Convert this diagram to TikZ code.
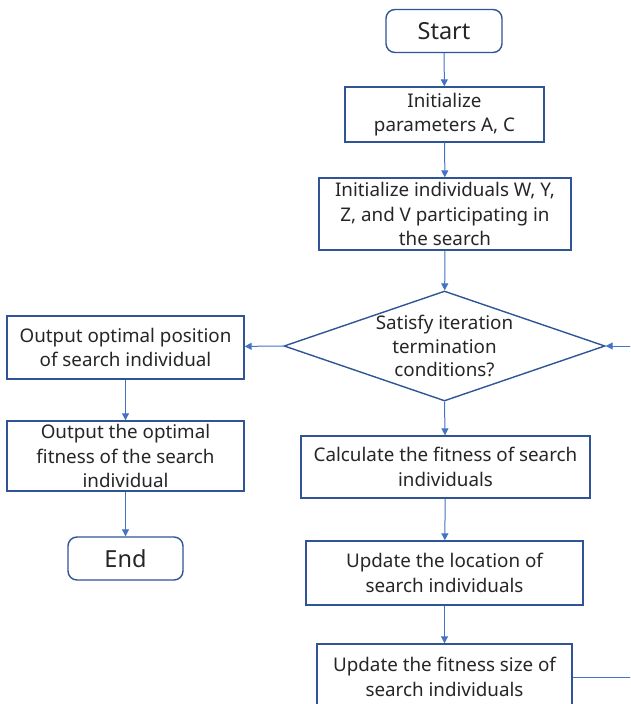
\documentclass[tikz,border=0pt]{standalone}
\usepackage{fontspec}
\setmainfont{Noto Sans}
\usepackage{tikz}
\usetikzlibrary{arrows.meta, positioning, shapes.geometric}

\definecolor{boxblue}{HTML}{2F5597}
\definecolor{lineblue}{HTML}{4472C4}
\definecolor{txtgray}{HTML}{262626}

\tikzset{
  stepbox/.style={draw=boxblue, line width=1.4pt, fill=white, inner sep=0pt, align=center,
    text=txtgray, font=\fontsize{18.8}{24.5}\selectfont},
  termbox/.style={stepbox, rounded corners=9pt, font=\fontsize{23.5}{28}\selectfont},
  decision/.style={draw=boxblue, line width=1.4pt, diamond, inner sep=0pt,
    minimum width=321pt, minimum height=110pt},
  flow/.style={draw=lineblue, line width=1pt, -{Triangle[length=7pt, width=7pt]}},
}

\begin{document}
\begin{tikzpicture}[x=1pt, y=-1pt]
  \useasboundingbox (0,0) rectangle (630,704);
  \clip (0,0) rectangle (630,704);
  % Paths, nodes and wires:
  \node[termbox, minimum width=116pt, minimum height=43pt] (start) at (444,31) {Start};
  \node[stepbox, minimum width=199pt, minimum height=55pt] (init) at (444.5,114.5) {Initialize\\parameters A, C};
  \node[stepbox, minimum width=252pt, minimum height=72pt] (indiv) at (445,214) {Initialize individuals W, Y,\\Z, and V participating in\\the search};
  \node[decision] (cond) at (444.5,346) {};
  \node[align=center, text=txtgray, font=\fontsize{18.8}{23.5}\selectfont] (condtext) at (cond.center) {Satisfy iteration\\termination\\conditions?};
  \node[stepbox, minimum width=237pt, minimum height=63pt] (outpos) at (125.5,347.5) {Output optimal position\\of search individual};
  \node[stepbox, minimum width=237pt, minimum height=70pt] (outfit) at (125.5,456) {Output the optimal\\fitness of the search\\individual};
  \node[termbox, minimum width=115pt, minimum height=43pt] (end) at (125.5,558.5) {End};
  \node[stepbox, minimum width=289pt, minimum height=62pt] (calc) at (445.5,467) {Calculate the fitness of search\\individuals};
  \node[stepbox, minimum width=277pt, minimum height=64pt] (updloc) at (444.5,573) {Update the location of\\search individuals};
  \node[stepbox, minimum width=255pt, minimum height=66pt] (updfit) at (444.5,677) {Update the fitness size of\\search individuals};
  \coordinate (back) at (660,346);

  \draw[flow] (start) -- (init);
  \draw[flow] (init) -- (indiv);
  \draw[flow] (indiv) -- (cond);
  \draw[flow] (cond.west) -- (outpos);
  \draw[flow] (outpos) -- (outfit);
  \draw[flow] (outfit) -- (end);
  \draw[flow] (cond.south) -- (calc);
  \draw[flow] (calc) -- (updloc);
  \draw[flow] (updloc) -- (updfit);
  \draw[flow] (updfit.east) -| (back) -- (cond.east);
\end{tikzpicture}
\end{document}
